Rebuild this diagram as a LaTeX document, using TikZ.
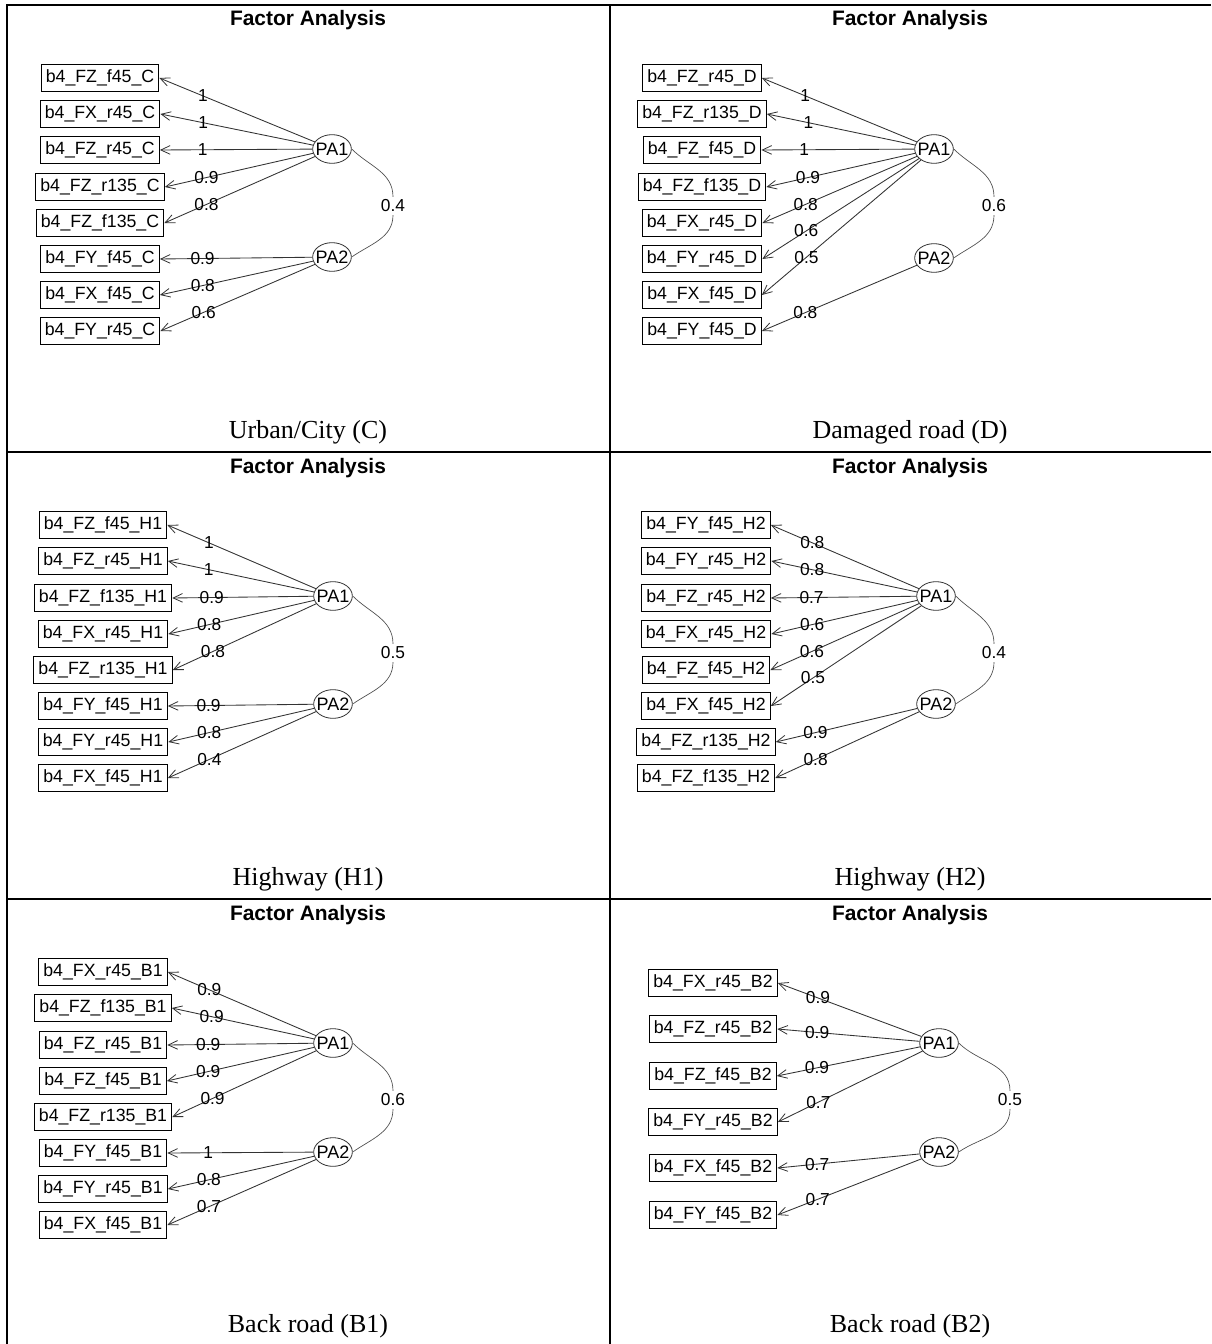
\documentclass[tikz,border=0pt]{standalone}
\usepackage{fontspec}
\setmainfont{Liberation Serif}
\newfontfamily\arialf{Liberation Sans}
\usetikzlibrary{shapes.geometric,arrows.meta}
\tikzset{
  var/.style={draw=black,line width=0.8pt,inner xsep=3.5pt,inner ysep=0pt,minimum height=20pt,yshift=-1.5pt,font=\arialf\fontsize{13.3}{15}\selectfont},
  fac/.style={ellipse,draw=black!80,line width=0.6pt,minimum width=29pt,minimum height=21.5pt,inner sep=0pt},
  factxt/.style={font=\arialf\fontsize{13.5}{15}\selectfont,inner sep=0pt},
  edge/.style={draw=black!80,line width=0.65pt,-{Straight Barb[length=7pt,width=6.5pt,line width=0.6pt]}},
  lbl/.style={font=\arialf\fontsize{13}{15}\selectfont,inner sep=0.5pt,pos=0.72},
  corr/.style={draw=black!70,line width=0.5pt},
  corrlbl/.style={font=\arialf\fontsize{13}{15}\selectfont,fill=white,inner sep=2pt},
  ttl/.style={font=\arialf\bfseries\fontsize{15.7}{18}\selectfont,inner sep=0pt,yshift=-1.5pt},
  captxt/.style={font=\fontsize{19.5}{22}\selectfont,inner sep=0pt,yshift=-1.5pt},
  gridln/.style={draw=black,line width=0.9pt}
}
\newcommand\myedge[3]{\draw[edge] (#1) -- node[lbl]{#3} (#2.east);}
\begin{document}
\begin{tikzpicture}[x=0.75pt,y=-0.75pt]
\useasboundingbox (0,0) rectangle (1211,1344);
% grid
\coordinate (g1) at (7,5); \coordinate (g2) at (1211,5);
\coordinate (g3) at (7,1344); \coordinate (g4) at (610,5); \coordinate (g5) at (610,1344);
\coordinate (g6) at (7,452); \coordinate (g7) at (1211,452);
\coordinate (g8) at (7,899); \coordinate (g9) at (1211,899);
\draw[gridln] (g3) -- (g1) -- (g2);
\draw[gridln] (g4) -- (g5);
\draw[gridln] (g6) -- (g7);
\draw[gridln] (g8) -- (g9);

% ---------- Panel C ----------
\begin{scope}[shift={(0,0)}]
\node[ttl] (ct) at (308,18) {Factor Analysis};
\node[captxt] (cc) at (308,430) {Urban/City (C)};
\node[var] (c1) at (100,76) {b4\_FZ\_f45\_C};
\node[var] (c2) at (100,112) {b4\_FX\_r45\_C};
\node[var] (c3) at (100,148) {b4\_FZ\_r45\_C};
\node[var] (c4) at (100,185) {b4\_FZ\_r135\_C};
\node[var] (c5) at (100,221) {b4\_FZ\_f135\_C};
\node[var] (c6) at (100,257) {b4\_FY\_f45\_C};
\node[var] (c7) at (100,293) {b4\_FX\_f45\_C};
\node[var] (c8) at (100,329) {b4\_FY\_r45\_C};
\node[fac] (cp1) at (332,149) {}; \node[factxt] (cp1t) at (cp1) {PA1};
\node[fac] (cp2) at (332,257) {}; \node[factxt] (cp2t) at (cp2) {PA2};
\myedge{cp1}{c1}{1}
\myedge{cp1}{c2}{1}
\myedge{cp1}{c3}{1}
\myedge{cp1}{c4}{0.9}
\myedge{cp1}{c5}{0.8}
\myedge{cp2}{c6}{0.9}
\myedge{cp2}{c7}{0.8}
\myedge{cp2}{c8}{0.6}
\node[corrlbl] (ck) at (393,206) {0.4};
\draw[corr] (cp1.east) to[out=-45,in=90] (ck.north);
\draw[corr] (ck.south) to[out=-90,in=35] (cp2.east);
\end{scope}

% ---------- Panel D ----------
\begin{scope}[shift={(602,0)}]
\node[ttl] (dt) at (308,18) {Factor Analysis};
\node[captxt] (dc) at (308,430) {Damaged road (D)};
\node[var] (d1) at (100,76) {b4\_FZ\_r45\_D};
\node[var] (d2) at (100,112) {b4\_FZ\_r135\_D};
\node[var] (d3) at (100,148) {b4\_FZ\_f45\_D};
\node[var] (d4) at (100,185) {b4\_FZ\_f135\_D};
\node[var] (d5) at (100,221) {b4\_FX\_r45\_D};
\node[var] (d6) at (100,257) {b4\_FY\_r45\_D};
\node[var] (d7) at (100,293) {b4\_FX\_f45\_D};
\node[var] (d8) at (100,329) {b4\_FY\_f45\_D};
\node[fac] (dp1) at (332,149) {}; \node[factxt] (dp1t) at (dp1) {PA1};
\node[fac] (dp2) at (332,258) {}; \node[factxt] (dp2t) at (dp2) {PA2};
\myedge{dp1}{d1}{1}
\myedge{dp1}{d2}{1}
\myedge{dp1}{d3}{1}
\myedge{dp1}{d4}{0.9}
\myedge{dp1}{d5}{0.8}
\myedge{dp1}{d6}{0.6}
\myedge{dp1}{d7}{0.5}
\myedge{dp2}{d8}{0.8}
\node[corrlbl] (dk) at (392,206) {0.6};
\draw[corr] (dp1.east) to[out=-45,in=90] (dk.north);
\draw[corr] (dk.south) to[out=-90,in=35] (dp2.east);
\end{scope}

% ---------- Panel H1 ----------
\begin{scope}[shift={(0,447)}]
\node[ttl] (ht) at (308,19) {Factor Analysis};
\node[captxt] (hc) at (308,430) {Highway (H1)};
\node[var] (h1) at (103,76) {b4\_FZ\_f45\_H1};
\node[var] (h2) at (103,112) {b4\_FZ\_r45\_H1};
\node[var] (h3) at (103,149) {b4\_FZ\_f135\_H1};
\node[var] (h4) at (103,185) {b4\_FX\_r45\_H1};
\node[var] (h5) at (103,221) {b4\_FZ\_r135\_H1};
\node[var] (h6) at (103,257) {b4\_FY\_f45\_H1};
\node[var] (h7) at (103,293) {b4\_FY\_r45\_H1};
\node[var] (h8) at (103,329) {b4\_FX\_f45\_H1};
\node[fac] (hp1) at (333,149) {}; \node[factxt] (hp1t) at (hp1) {PA1};
\node[fac] (hp2) at (333,257) {}; \node[factxt] (hp2t) at (hp2) {PA2};
\myedge{hp1}{h1}{1}
\myedge{hp1}{h2}{1}
\myedge{hp1}{h3}{0.9}
\myedge{hp1}{h4}{0.8}
\myedge{hp1}{h5}{0.8}
\myedge{hp2}{h6}{0.9}
\myedge{hp2}{h7}{0.8}
\myedge{hp2}{h8}{0.4}
\node[corrlbl] (hk) at (393,206) {0.5};
\draw[corr] (hp1.east) to[out=-45,in=90] (hk.north);
\draw[corr] (hk.south) to[out=-90,in=35] (hp2.east);
\end{scope}

% ---------- Panel H2 ----------
\begin{scope}[shift={(602,447)}]
\node[ttl] (kt) at (308,19) {Factor Analysis};
\node[captxt] (kc) at (308,430) {Highway (H2)};
\node[var] (k1) at (104,76) {b4\_FY\_f45\_H2};
\node[var] (k2) at (104,112) {b4\_FY\_r45\_H2};
\node[var] (k3) at (104,149) {b4\_FZ\_r45\_H2};
\node[var] (k4) at (104,185) {b4\_FX\_r45\_H2};
\node[var] (k5) at (104,221) {b4\_FZ\_f45\_H2};
\node[var] (k6) at (104,257) {b4\_FX\_f45\_H2};
\node[var] (k7) at (104,293) {b4\_FZ\_r135\_H2};
\node[var] (k8) at (104,329) {b4\_FZ\_f135\_H2};
\node[fac] (kp1) at (334,149) {}; \node[factxt] (kp1t) at (kp1) {PA1};
\node[fac] (kp2) at (334,257) {}; \node[factxt] (kp2t) at (kp2) {PA2};
\myedge{kp1}{k1}{0.8}
\myedge{kp1}{k2}{0.8}
\myedge{kp1}{k3}{0.7}
\myedge{kp1}{k4}{0.6}
\myedge{kp1}{k5}{0.6}
\myedge{kp1}{k6}{0.5}
\myedge{kp2}{k7}{0.9}
\myedge{kp2}{k8}{0.8}
\node[corrlbl] (kk) at (392,206) {0.4};
\draw[corr] (kp1.east) to[out=-45,in=90] (kk.north);
\draw[corr] (kk.south) to[out=-90,in=35] (kp2.east);
\end{scope}

% ---------- Panel B1 ----------
\begin{scope}[shift={(0,894)}]
\node[ttl] (bt) at (308,19) {Factor Analysis};
\node[captxt] (bc) at (308,430) {Back road (B1)};
\node[var] (b1) at (103,76) {b4\_FX\_r45\_B1};
\node[var] (b2) at (103,112) {b4\_FZ\_f135\_B1};
\node[var] (b3) at (103,149) {b4\_FZ\_r45\_B1};
\node[var] (b4) at (103,185) {b4\_FZ\_f45\_B1};
\node[var] (b5) at (103,221) {b4\_FZ\_r135\_B1};
\node[var] (b6) at (103,257) {b4\_FY\_f45\_B1};
\node[var] (b7) at (103,293) {b4\_FY\_r45\_B1};
\node[var] (b8) at (103,329) {b4\_FX\_f45\_B1};
\node[fac] (bp1) at (333,149) {}; \node[factxt] (bp1t) at (bp1) {PA1};
\node[fac] (bp2) at (333,258) {}; \node[factxt] (bp2t) at (bp2) {PA2};
\myedge{bp1}{b1}{0.9}
\myedge{bp1}{b2}{0.9}
\myedge{bp1}{b3}{0.9}
\myedge{bp1}{b4}{0.9}
\myedge{bp1}{b5}{0.9}
\myedge{bp2}{b6}{1}
\myedge{bp2}{b7}{0.8}
\myedge{bp2}{b8}{0.7}
\node[corrlbl] (bk) at (393,206) {0.6};
\draw[corr] (bp1.east) to[out=-45,in=90] (bk.north);
\draw[corr] (bk.south) to[out=-90,in=35] (bp2.east);
\end{scope}

% ---------- Panel B2 ----------
\begin{scope}[shift={(602,894)}]
\node[ttl] (et) at (308,19) {Factor Analysis};
\node[captxt] (ec) at (308,430) {Back road (B2)};
\node[var] (e1) at (111,87) {b4\_FX\_r45\_B2};
\node[var] (e2) at (111,133) {b4\_FZ\_r45\_B2};
\node[var] (e3) at (111,180) {b4\_FZ\_f45\_B2};
\node[var] (e4) at (111,226) {b4\_FY\_r45\_B2};
\node[var] (e5) at (111,272) {b4\_FX\_f45\_B2};
\node[var] (e6) at (111,319) {b4\_FY\_f45\_B2};
\node[fac] (ep1) at (337,149) {}; \node[factxt] (ep1t) at (ep1) {PA1};
\node[fac] (ep2) at (337,258) {}; \node[factxt] (ep2t) at (ep2) {PA2};
\myedge{ep1}{e1}{0.9}
\myedge{ep1}{e2}{0.9}
\myedge{ep1}{e3}{0.9}
\myedge{ep1}{e4}{0.7}
\myedge{ep2}{e5}{0.7}
\myedge{ep2}{e6}{0.7}
\node[corrlbl] (ek) at (408,206) {0.5};
\draw[corr] (ep1.east) to[out=-45,in=90] (ek.north);
\draw[corr] (ek.south) to[out=-90,in=35] (ep2.east);
\end{scope}
\end{tikzpicture}
\end{document}
